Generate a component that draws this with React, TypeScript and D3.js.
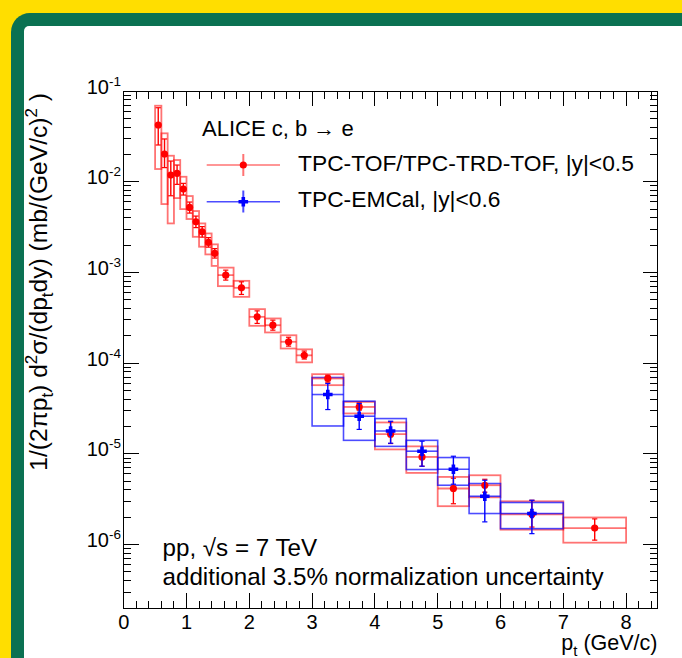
import React from "react";
import * as d3 from "d3";

// ---------- data ----------
const redPt = [0.55, 0.65, 0.75, 0.85, 0.95, 1.05, 1.15, 1.25, 1.35, 1.45, 1.625, 1.875, 2.125, 2.375, 2.625, 2.875, 3.25, 3.75, 4.25, 4.75, 5.25, 5.75, 6.5, 7.5];
const redBinLo = [0.5, 0.6, 0.7, 0.8, 0.9, 1.0, 1.1, 1.2, 1.3, 1.4, 1.5, 1.75, 2.0, 2.25, 2.5, 2.75, 3.0, 3.5, 4.0, 4.5, 5.0, 5.5, 6.0, 7.0];
const redBinHi = [0.6, 0.7, 0.8, 0.9, 1.0, 1.1, 1.2, 1.3, 1.4, 1.5, 1.75, 2.0, 2.25, 2.5, 2.75, 3.0, 3.5, 4.0, 4.5, 5.0, 5.5, 6.0, 7.0, 8.0];
const redY = [4.22e-2, 2.02e-2, 1.184e-2, 1.237e-2, 8.3e-3, 5.21e-3, 3.62e-3, 2.81e-3, 2.14e-3, 1.62e-3, 9.34e-4, 6.77e-4, 3.24e-4, 2.62e-4, 1.72e-4, 1.22e-4, 6.78e-5, 3.29e-5, 1.65e-5, 9.25e-6, 4.15e-6, 4.51e-6, 2.16e-6, 1.52e-6];
const redStatHi = [6.54e-2, 2.96e-2, 1.69e-2, 1.527e-2, 9.59e-3, 5.97e-3, 4.18e-3, 3.2e-3, 2.42e-3, 1.83e-3, 1.06e-3, 7.88e-4, 3.77e-4, 2.98e-4, 1.93e-4, 1.36e-4, 7.37e-5, 3.65e-5, 2.25e-5, 1.05e-5, 5.39e-6, 5.25e-6, 3.08e-6, 1.92e-6];
const redStatLo = [2.54e-2, 1.43e-2, 7.0e-3, 9.35e-3, 7.13e-3, 4.51e-3, 3.12e-3, 2.45e-3, 1.9e-3, 1.44e-3, 8.23e-4, 5.72e-4, 2.74e-4, 2.31e-4, 1.54e-4, 1.11e-4, 6.17e-5, 3.03e-5, 1.3e-5, 7.31e-6, 2.82e-6, 3.78e-6, 1.56e-6, 1.12e-6];
const redSysHi = [6.88e-2, 3.415e-2, 1.934e-2, 1.734e-2, 1.134e-2, 6.95e-3, 4.75e-3, 3.47e-3, 2.69e-3, 2.04e-3, 1.13e-3, 8.08e-4, 3.94e-4, 3.11e-4, 2.03e-4, 1.42e-4, 7.56e-5, 3.74e-5, 2.22e-5, 1.21e-5, 5.57e-6, 5.81e-6, 3.0e-6, 1.99e-6];
const redSysLo = [1.38e-2, 5.67e-3, 3.47e-3, 6.6e-3, 4.99e-3, 3.88e-3, 2.47e-3, 1.92e-3, 1.58e-3, 1.18e-3, 7.06e-4, 5.38e-4, 2.58e-4, 2.18e-4, 1.45e-4, 1.02e-4, 5.72e-5, 2.79e-5, 1.12e-5, 6.17e-6, 2.65e-6, 3.32e-6, 1.46e-6, 1.05e-6];

const bluePt = [3.25, 3.75, 4.25, 4.75, 5.25, 5.75, 6.5];
const blueBinLo = [3.0, 3.5, 4.0, 4.5, 5.0, 5.5, 6.0];
const blueBinHi = [3.5, 4.0, 4.5, 5.0, 5.5, 6.0, 7.0];
const blueY = [4.51e-5, 2.6e-5, 1.79e-5, 1.07e-5, 6.77e-6, 3.41e-6, 2.2e-6];
const blueStatHi = [5.97e-5, 3.59e-5, 2.29e-5, 1.38e-5, 9.42e-6, 5.12e-6, 3.08e-6];
const blueStatLo = [3.08e-5, 1.86e-5, 1.31e-5, 7.31e-6, 4.63e-6, 1.78e-6, 1.32e-6];
const blueSysHi = [6.95e-5, 3.81e-5, 2.45e-5, 1.41e-5, 9.11e-6, 4.71e-6, 2.91e-6];
const blueSysLo = [2.03e-5, 1.41e-5, 1.21e-5, 6.72e-6, 4.51e-6, 2.2e-6, 1.5e-6];

const xTickLabels = ["0", "1", "2", "3", "4", "5", "6", "7", "8"];
const yDecadeExp = [-1, -2, -3, -4, -5, -6];

const FONT = "'Liberation Sans', Arial, Helvetica, sans-serif";
const RED = "#ff0000";
const RED_L = "rgba(255,0,0,0.55)";
const BLUE = "#0000ff";
const BLUE_L = "rgba(0,0,255,0.7)";

export default function App() {
  const x = d3.scaleLinear().domain([0, 8.5]).range([123.7, 657.5]);
  const y = d3.scaleLog().domain([2e-7, 0.1]).range([608, 91]);
  const [x0, x1] = x.range();
  const [yb, yt] = y.range();

  // ticks
  const xMajor = d3.range(0, 9, 1);
  const xMinor = d3.range(0, 8.5 + 1e-9, 0.2).filter((v) => Math.abs(v - Math.round(v)) > 1e-6);
  const yMajor = yDecadeExp.map((e) => Math.pow(10, e));
  const yMinor: number[] = [];
  [-7, -6, -5, -4, -3, -2].forEach((e) => {
    for (let k = 2; k <= 9; k++) {
      const v = k * Math.pow(10, e);
      if (v >= 2e-7 - 1e-12 && v < 0.1) yMinor.push(v);
    }
  });

  const cross = (cx: number, cy: number, a = 4.8, t = 1.8) =>
    `M${cx - t},${cy - a}H${cx + t}V${cy - t}H${cx + a}V${cy + t}H${cx + t}V${cy + a}H${cx - t}V${cy + t}H${cx - a}V${cy - t}H${cx - t}Z`;

  const cap = 2.6;

  return (
    <svg width={682} height={658} style={{ position: "fixed", left: 0, top: 0, display: "block" }} fontFamily={FONT}>
      <rect x={0} y={0} width={682} height={658} fill="#ffde00" />
      <rect x={11} y={13} width={720} height={720} rx={19} fill="#0b7152" />
      <rect x={24} y={26} width={720} height={720} rx={5} fill="#ffffff" />

      {/* systematic boxes */}
      {redPt.map((p, i) => (
        <rect key={"rs" + i} x={x(redBinLo[i])} y={y(redSysHi[i])} width={x(redBinHi[i]) - x(redBinLo[i])}
          height={y(redSysLo[i]) - y(redSysHi[i])} fill="none" stroke={RED_L} strokeWidth={1.8} />
      ))}
      {bluePt.map((p, i) => (
        <rect key={"bs" + i} x={x(blueBinLo[i])} y={y(blueSysHi[i])} width={x(blueBinHi[i]) - x(blueBinLo[i])}
          height={y(blueSysLo[i]) - y(blueSysHi[i])} fill="none" stroke={BLUE_L} strokeWidth={1.6} />
      ))}

      {/* red points */}
      {redPt.map((p, i) => (
        <g key={"rp" + i}>
          <line x1={x(redBinLo[i])} x2={x(redBinHi[i])} y1={y(redY[i])} y2={y(redY[i])} stroke={RED_L} strokeWidth={1.8} />
          <line x1={x(p)} x2={x(p)} y1={y(redStatHi[i])} y2={y(redStatLo[i])} stroke={RED} strokeWidth={1.4} />
          <line x1={x(p) - cap} x2={x(p) + cap} y1={y(redStatHi[i])} y2={y(redStatHi[i])} stroke={RED} strokeWidth={1.2} />
          <line x1={x(p) - cap} x2={x(p) + cap} y1={y(redStatLo[i])} y2={y(redStatLo[i])} stroke={RED} strokeWidth={1.2} />
          <circle cx={x(p)} cy={y(redY[i])} r={3.6} fill={RED} />
        </g>
      ))}
      {/* blue points */}
      {bluePt.map((p, i) => (
        <g key={"bp" + i}>
          <line x1={x(blueBinLo[i])} x2={x(blueBinHi[i])} y1={y(blueY[i])} y2={y(blueY[i])} stroke={BLUE_L} strokeWidth={1.6} />
          <line x1={x(p)} x2={x(p)} y1={y(blueStatHi[i])} y2={y(blueStatLo[i])} stroke={BLUE} strokeWidth={1.4} />
          <line x1={x(p) - cap} x2={x(p) + cap} y1={y(blueStatHi[i])} y2={y(blueStatHi[i])} stroke={BLUE} strokeWidth={1.2} />
          <line x1={x(p) - cap} x2={x(p) + cap} y1={y(blueStatLo[i])} y2={y(blueStatLo[i])} stroke={BLUE} strokeWidth={1.2} />
          <path d={cross(x(p), y(blueY[i]))} fill={BLUE} />
        </g>
      ))}

      {/* frame and ticks */}
      <g stroke="#000" strokeWidth={1} shapeRendering="crispEdges" fill="none">
        <rect x={x0} y={yt} width={x1 - x0} height={yb - yt} />
        {xMajor.map((v) => (
          <g key={"xM" + v}>
            <line x1={x(v)} x2={x(v)} y1={yb} y2={yb - 15} />
            <line x1={x(v)} x2={x(v)} y1={yt} y2={yt + 15} />
          </g>
        ))}
        {xMinor.map((v) => (
          <g key={"xm" + v}>
            <line x1={x(v)} x2={x(v)} y1={yb} y2={yb - 7.5} />
            <line x1={x(v)} x2={x(v)} y1={yt} y2={yt + 7.5} />
          </g>
        ))}
        {yMajor.map((v) => (
          <g key={"yM" + v}>
            <line x1={x0} x2={x0 + 15} y1={y(v)} y2={y(v)} />
            <line x1={x1} x2={x1 - 15} y1={y(v)} y2={y(v)} />
          </g>
        ))}
        {yMinor.map((v) => (
          <g key={"ym" + v}>
            <line x1={x0} x2={x0 + 7.5} y1={y(v)} y2={y(v)} />
            <line x1={x1} x2={x1 - 7.5} y1={y(v)} y2={y(v)} />
          </g>
        ))}
      </g>

      {/* tick labels */}
      {xMajor.map((v, i) => (
        <text key={"xl" + v} x={x(v)} y={yb + 21} fontSize={20} textAnchor="middle" fill="#000">{xTickLabels[i]}</text>
      ))}
      {yDecadeExp.map((e) => (
        <text key={"yl" + e} x={121} y={y(Math.pow(10, e)) + 2.5} fontSize={20} textAnchor="end" fill="#000">
          10<tspan fontSize={13.5} dy={-8}>{String(e)}</tspan>
        </text>
      ))}

      {/* axis titles */}
      <text x={x1} y={650} fontSize={21.5} textAnchor="end" fill="#000">
        p<tspan fontSize={15} dy={6}>t</tspan><tspan dy={-6}> (GeV/c)</tspan>
      </text>
      <text transform="translate(47,93) rotate(-90)" fontSize={24.6} textAnchor="end" fill="#000">
        1/(2πp<tspan fontSize={17} dy={6}>t</tspan><tspan dy={-6}>) d</tspan><tspan fontSize={17} dy={-10}>2</tspan><tspan dy={10}>σ/(dp</tspan><tspan fontSize={17} dy={6}>t</tspan><tspan dy={-6}>dy) (mb/(GeV/c)</tspan><tspan fontSize={17} dy={-10}>2</tspan><tspan dy={10}> )</tspan>
      </text>

      {/* legend */}
      <text x={202} y={136} fontSize={22} fill="#000">ALICE c, b → e</text>
      <line x1={206.7} x2={280} y1={165} y2={165} stroke={RED_L} strokeWidth={1.5} />
      <line x1={243.3} x2={243.3} y1={154} y2={176} stroke={RED_L} strokeWidth={2} />
      <circle cx={243.3} cy={165} r={3.6} fill={RED} />
      <text x={298} y={171} fontSize={22.8} fill="#000">TPC-TOF/TPC-TRD-TOF, |y|&lt;0.5</text>
      <line x1={206.7} x2={280} y1={201.7} y2={201.7} stroke={BLUE_L} strokeWidth={1.5} />
      <line x1={243.3} x2={243.3} y1={190.5} y2={212.5} stroke={BLUE_L} strokeWidth={2} />
      <path d={cross(243.3, 201.7)} fill={BLUE} />
      <text x={298} y={207} fontSize={22.8} fill="#000">TPC-EMCal, |y|&lt;0.6</text>

      {/* annotations */}
      <text x={162.5} y={556} fontSize={24.2} fill="#000">pp, √s = 7 TeV</text>
      <text x={162.5} y={585} fontSize={24.2} fill="#000">additional 3.5% normalization uncertainty</text>
    </svg>
  );
}
